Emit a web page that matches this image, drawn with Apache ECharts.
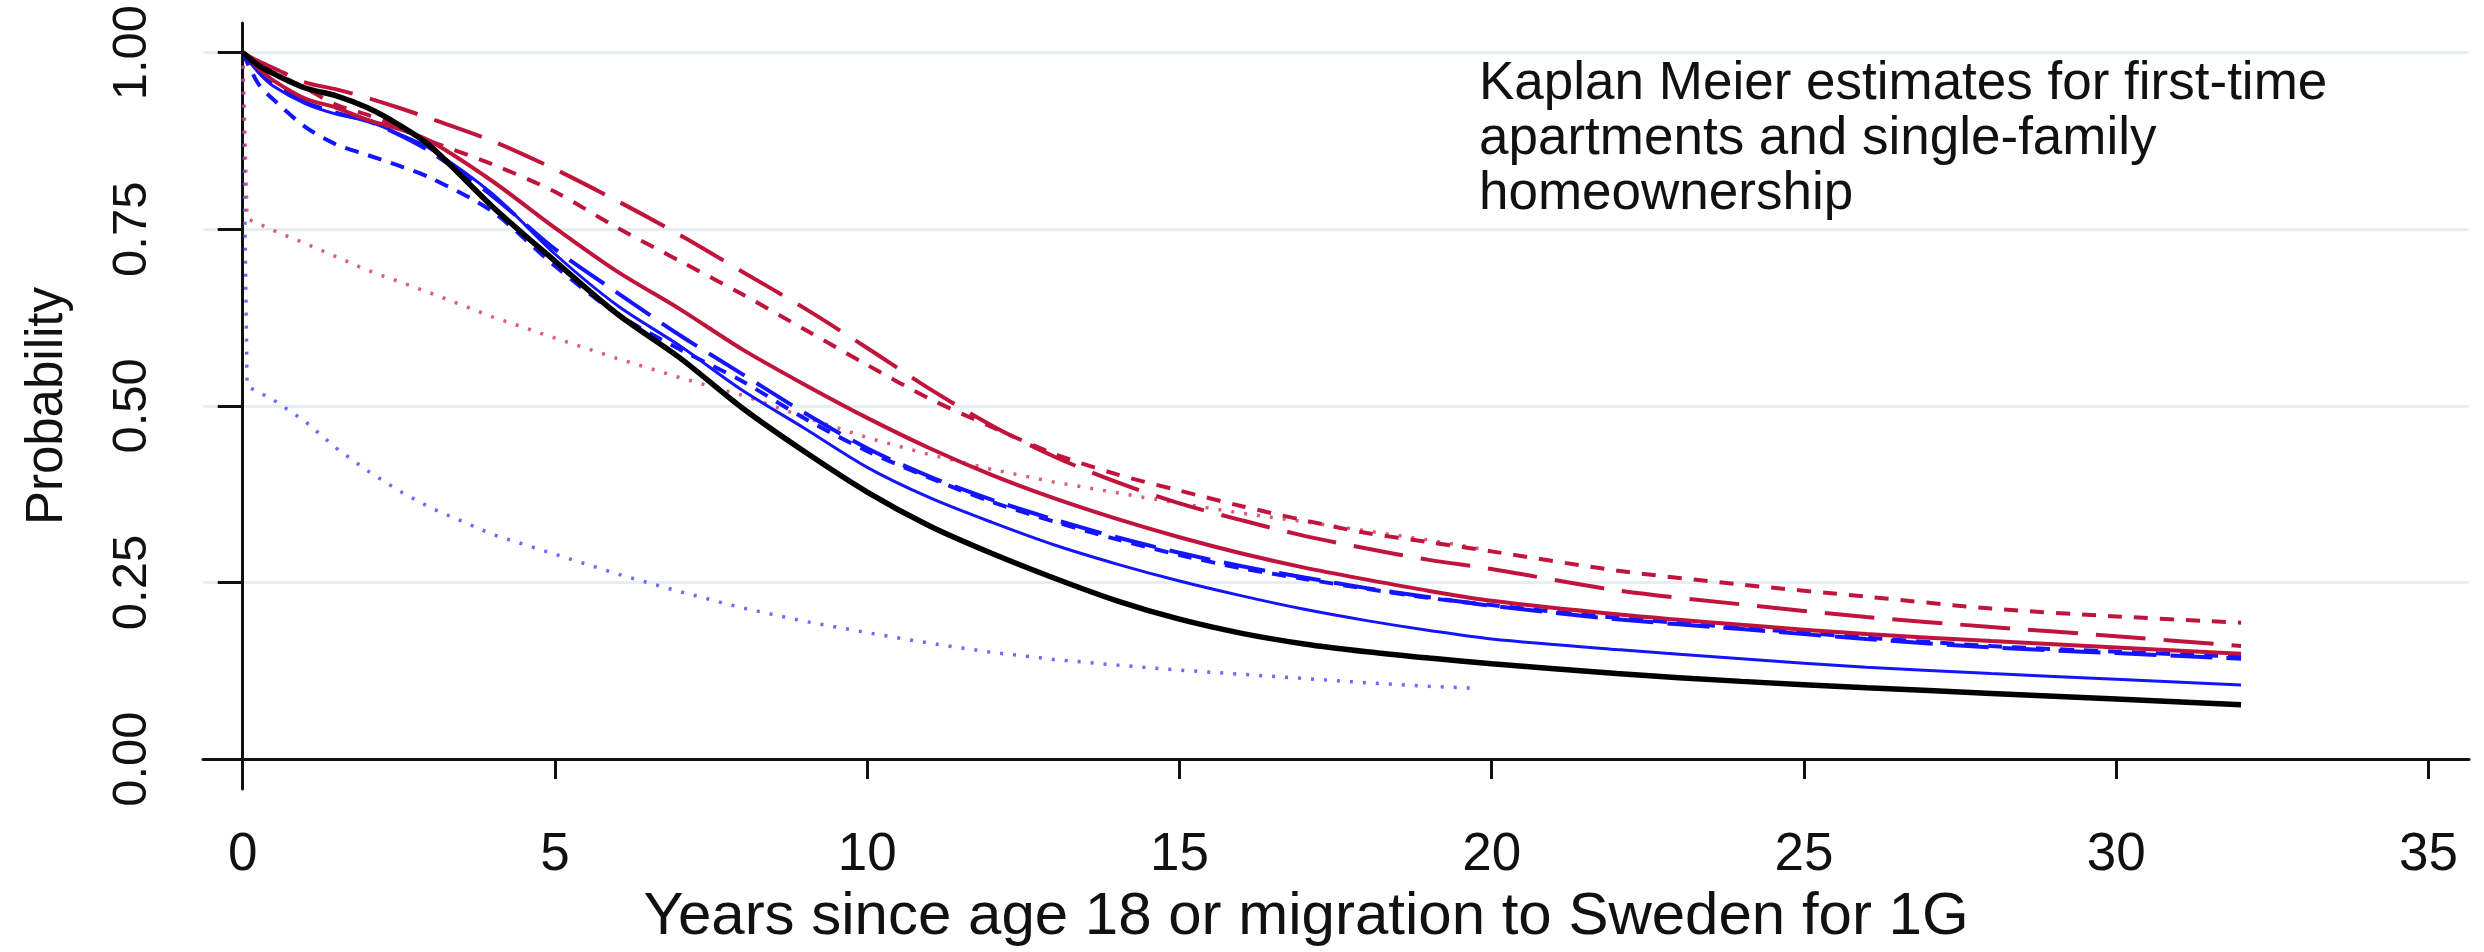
<!DOCTYPE html>
<html>
<head>
<meta charset="utf-8">
<script src="https://cdn.jsdelivr.net/npm/echarts@6/dist/echarts.min.js"></script>
<style>
html,body{margin:0;padding:0;background:#fff;}
#chart{width:2484px;height:952px;}
</style>
</head>
<body>
<div id="chart"></div>
<script>
// ---- data ----
const years = [0, 0.25, 0.5, 1, 1.5, 2, 2.5, 3, 4, 5, 6, 7, 8, 9, 10, 11, 12, 13, 14, 15, 16, 17, 18, 19, 20, 22, 24, 26, 28, 30, 32];
const black = [1.000, 0.982, 0.970, 0.950, 0.939, 0.922, 0.898, 0.868, 0.782, 0.705, 0.630, 0.568, 0.497, 0.435, 0.378, 0.330, 0.291, 0.256, 0.224, 0.198, 0.178, 0.163, 0.152, 0.143, 0.135, 0.121, 0.110, 0.101, 0.093, 0.085, 0.077];
const blueSolid = [1.000, 0.972, 0.952, 0.928, 0.913, 0.903, 0.885, 0.864, 0.800, 0.715, 0.642, 0.585, 0.522, 0.468, 0.413, 0.370, 0.335, 0.303, 0.276, 0.252, 0.231, 0.212, 0.196, 0.182, 0.170, 0.155, 0.142, 0.130, 0.121, 0.113, 0.105];
const crimsonSolid = [1.000, 0.978, 0.960, 0.935, 0.922, 0.905, 0.892, 0.875, 0.818, 0.752, 0.690, 0.637, 0.580, 0.530, 0.483, 0.440, 0.402, 0.369, 0.340, 0.314, 0.291, 0.271, 0.254, 0.238, 0.224, 0.205, 0.190, 0.177, 0.167, 0.158, 0.149];
const blueLongDash = [1.000, 0.975, 0.957, 0.930, 0.915, 0.903, 0.884, 0.860, 0.797, 0.722, 0.660, 0.600, 0.545, 0.490, 0.440, 0.400, 0.367, 0.339, 0.314, 0.292, 0.273, 0.257, 0.242, 0.229, 0.217, 0.198, 0.184, 0.170, 0.158, 0.150, 0.142];
const blueShortDash = [1.000, 0.956, 0.933, 0.895, 0.870, 0.855, 0.840, 0.823, 0.775, 0.698, 0.630, 0.580, 0.535, 0.482, 0.436, 0.398, 0.364, 0.336, 0.311, 0.289, 0.270, 0.255, 0.241, 0.228, 0.218, 0.200, 0.186, 0.172, 0.160, 0.152, 0.145];
const crimsonLongDash = [1.000, 0.988, 0.978, 0.958, 0.948, 0.936, 0.922, 0.907, 0.875, 0.835, 0.790, 0.742, 0.690, 0.638, 0.582, 0.524, 0.472, 0.428, 0.392, 0.362, 0.338, 0.316, 0.298, 0.282, 0.269, 0.239, 0.219, 0.201, 0.187, 0.174, 0.160];
const crimsonShortDash = [1.000, 0.985, 0.972, 0.950, 0.926, 0.912, 0.895, 0.875, 0.842, 0.803, 0.752, 0.705, 0.658, 0.608, 0.558, 0.510, 0.470, 0.432, 0.403, 0.380, 0.358, 0.338, 0.320, 0.307, 0.294, 0.267, 0.247, 0.230, 0.213, 0.202, 0.193];

const dottedYears = [0, 0.07, 0.5, 1, 1.5, 2, 2.5, 3, 4, 5, 6, 7, 8, 9, 10, 11, 12, 13, 14, 15, 16, 17, 18, 19, 19.8];
const crimsonDotted = [1.000, 0.765, 0.748, 0.730, 0.711, 0.692, 0.676, 0.660, 0.626, 0.596, 0.567, 0.540, 0.515, 0.484, 0.455, 0.431, 0.410, 0.392, 0.377, 0.362, 0.348, 0.336, 0.323, 0.310, 0.298];
const blueDotted = [1.000, 0.528, 0.508, 0.478, 0.440, 0.408, 0.380, 0.356, 0.318, 0.290, 0.262, 0.237, 0.214, 0.195, 0.179, 0.164, 0.151, 0.141, 0.133, 0.126, 0.120, 0.114, 0.108, 0.103, 0.100];

const xTicks = [0, 5, 10, 15, 20, 25, 30, 35];
const yTicks = [0, 0.25, 0.5, 0.75, 1];
const xTitle = 'Years since age 18 or migration to Sweden for 1G';
const yTitle = 'Probability';
const note = 'Kaplan Meier estimates for first-time\napartments and single-family\nhomeownership';

// ---- build ----
const FONT = "'Liberation Sans', Arial, sans-serif";
const BLUE = '#1414ff';
const CRIMSON = '#c0143c';
function pairs(xs, ys) { return xs.map((x, i) => [x, ys[i]]); }
function line(name, xs, ys, color, width, type, smooth, opacity) {
  return {
    name, type: 'line', data: pairs(xs, ys), showSymbol: false, symbol: 'none',
    smooth: smooth,
    lineStyle: { color, width, type, opacity: opacity == null ? 1 : opacity, cap: 'butt' },
    emphasis: { disabled: true }
  };
}

const chart = echarts.init(document.getElementById('chart'), null, { renderer: 'canvas' });
chart.setOption({
  animation: false,
  backgroundColor: '#ffffff',
  title: {
    text: note, left: 1479, top: 57, padding: 0,
    textStyle: { fontFamily: FONT, fontSize: 53, fontWeight: 'normal', color: '#111', lineHeight: 55 }
  },
  grid: { left: 203, right: 15, top: 23, bottom: 145, containLabel: false },
  xAxis: {
    type: 'value', min: -0.636, max: 35.65,
    axisLine: { show: true, lineStyle: { color: '#111', width: 3 } },
    axisTick: { show: true, customValues: xTicks, length: 20, lineStyle: { color: '#111', width: 3 } },
    axisLabel: { customValues: xTicks, margin: 40, fontFamily: FONT, fontSize: 53, color: '#111' },
    splitLine: { show: false },
    name: xTitle, nameLocation: 'middle', nameGap: 86,
    nameTextStyle: { fontFamily: FONT, fontSize: 60, color: '#111', padding: [0, 60, 0, 0] }
  },
  yAxis: {
    type: 'value', min: -0.0425, max: 1.042,
    axisLine: { show: true, lineStyle: { color: '#111', width: 3 } },
    axisTick: { show: true, customValues: yTicks, length: 25, lineStyle: { color: '#111', width: 3 } },
    axisLabel: { customValues: yTicks, rotate: 90, margin: 46, fontFamily: FONT, fontSize: 49, color: '#111',
      formatter: v => v.toFixed(2) },
    splitLine: { show: true, lineStyle: { color: '#e5eef0', width: 3 } },
    name: yTitle, nameLocation: 'middle', nameGap: 130, nameRotate: 90,
    nameTextStyle: { fontFamily: FONT, fontSize: 51, color: '#111' }
  },
  series: [
    line('Blue dotted', dottedYears, blueDotted, '#5050ff', 3.5, [3, 10], false, 0.85),
    line('Crimson dotted', dottedYears, crimsonDotted, '#d8405f', 3.5, [3, 10], false, 0.85),
    line('Crimson long dash', years, crimsonLongDash, CRIMSON, 4, [50, 18], 0.3),
    line('Crimson short dash', years, crimsonShortDash, CRIMSON, 4, [14, 12], 0.3),
    line('Blue short dash', years, blueShortDash, BLUE, 4, [14, 10], 0.3),
    line('Blue long dash', years, blueLongDash, BLUE, 4, [42, 14], 0.3),
    line('Blue solid', years, blueSolid, BLUE, 3, null, 0.3),
    line('Crimson solid', years, crimsonSolid, CRIMSON, 4, null, 0.3),
    line('Black solid', years, black, '#000000', 5.5, null, 0.3)
  ]
});
</script>
</body>
</html>
